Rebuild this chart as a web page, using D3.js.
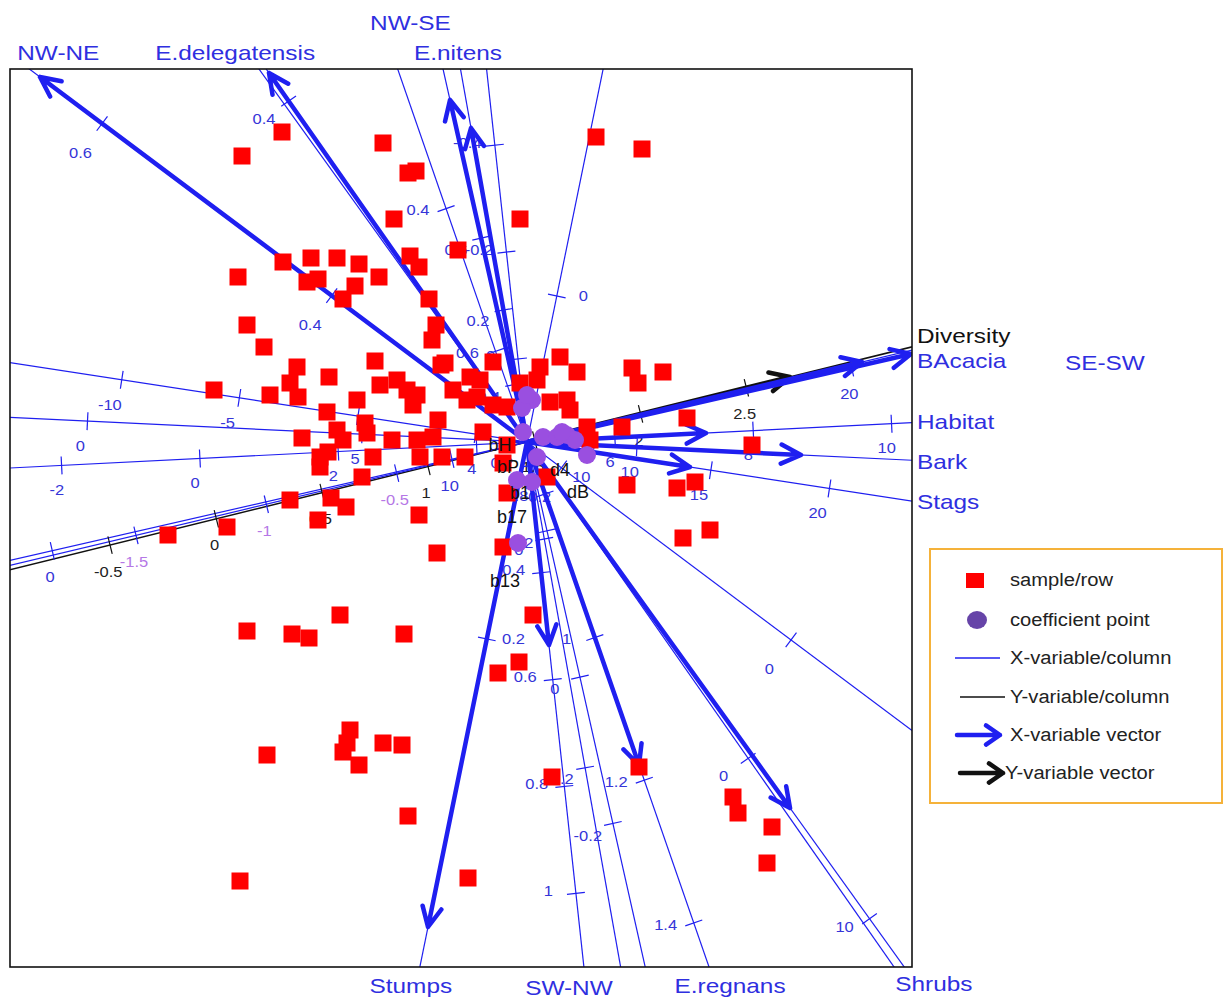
<!DOCTYPE html>
<html><head><meta charset="utf-8">
<script src="https://cdn.jsdelivr.net/npm/d3@7"></script>
<style>
body{margin:0;background:#fff;}
svg{display:block;}
text{font-family:"Liberation Sans",Arial,sans-serif;}
</style>
</head><body>
<svg id="c" width="1224" height="998"></svg>
<script>
// ---------------- DATA (biplot units) ----------------
const sampleX = [-2.45,-2.85,-1.44,0.69,1.15,-1.19,-1.11,-1.33,-0.07,-0.69,
 -2.44,-2.16,-1.90,-1.68,-1.48,-1.17,-1.08,-2.89,-2.20,-2.09,-1.72,-1.84,-0.98,
 -2.80,-0.91,-0.95,-2.63,-0.86,-1.52,-2.30,-1.98,-3.13,-2.57,-2.37,-2.29,
 -1.47,-1.30,-1.20,-1.10,-1.14,-1.70,-2.00,-0.74,-0.57,-0.60,-0.89,-2.25,-1.90,-1.84,-1.62,-1.60,
 -2.07,-1.99,-2.07,-1.54,-1.35,-1.10,-0.94,-1.07,-0.85,-0.62,-1.65,-2.37,-1.96,-1.81,-3.00,-3.59,-2.09,-1.08,-0.90,
 -0.82,-0.34,-0.47,-0.50,0.33,0.13,0.50,-0.07,0.10,-0.34,-0.20,0.23,0.40,0.43,0.60,0.63,1.05,1.11,1.36,0.95,1.60,2.25,
 -0.44,-0.20,-0.24,0.20,-0.20,1.00,1.50,1.68,1.56,1.83,-0.24,
 -2.80,-2.35,-2.18,-1.87,-1.23,0.06,-0.08,-0.29,-2.60,-1.77,-1.80,-1.84,-1.68,-1.44,-1.25,-1.19,0.25,-2.87,-0.59,1.12,2.06,2.11,2.45,2.40];
const sampleY = [3.10,2.86,2.99,3.05,2.93,2.69,2.71,2.23,2.23,1.92,
 1.80,1.84,1.84,1.78,1.65,1.86,1.75,1.65,1.60,1.63,1.56,1.43,1.43,
 1.17,1.17,1.02,0.95,0.77,0.81,0.75,0.65,0.52,0.47,0.59,0.45,
 0.57,0.62,0.52,0.47,0.37,0.42,0.30,0.52,0.65,0.42,0.22,0.04,0.12,0.02,0.19,0.09,
 -0.15,-0.10,-0.25,-0.15,0.02,0.02,0.05,-0.15,-0.15,-0.15,-0.35,-0.58,-0.56,-0.65,-0.85,-0.93,-0.78,-0.73,-1.11,
 0.79,0.80,0.62,0.45,0.85,0.75,0.70,0.59,0.62,0.37,0.35,0.40,0.42,0.32,0.15,0.02,0.74,0.59,0.70,0.15,0.24,-0.03,
 0.10,-0.03,-0.21,-0.35,-0.51,-0.43,-0.46,-0.40,-0.96,-0.88,-1.05,
 -1.89,-1.92,-1.96,-1.73,-1.92,-1.73,-2.20,-2.31,-3.13,-2.88,-3.01,-3.10,-3.23,-3.01,-3.03,-3.74,-3.35,-4.39,-4.36,-3.25,-3.55,-3.71,-3.85,-4.21];

const coefX = [0.05,-0.05,-0.04,0.16,0.30,0.40,0.48,0.10,0.60,-0.10,0.05,-0.09,0.35,0.00];
const coefY = [0.42,0.34,0.10,0.05,0.05,0.07,0.02,-0.15,-0.13,-0.38,-0.40,-1.01,0.10,0.47];
const coefLabel  = ["bH","bP","b1","b17","b13","d4","dB"];
const coefLabelX = [-0.27,-0.19,-0.07,-0.15,-0.22,0.33,0.51];
const coefLabelY = [-0.03,-0.25,-0.51,-0.75,-1.39,-0.28,-0.50];

const axisName = ["NW-NE","E.delegatensis","NW-SE","E.nitens","Diversity","BAcacia","SE-SW",
                  "Habitat","Bark","Stags","Shrubs","E.regnans","SW-NW","Stumps"];
const axisType = ["X","X","X","X","Y","X","X","X","X","X","X","X","X","X"];
const arrowX = [-4.87,-2.58,-0.56,-0.77,2.63,3.84,3.35,1.79,2.74,1.63,2.63,1.12,0.22,-0.99];
const arrowY = [ 3.65, 3.69, 3.14, 3.42,0.65,0.88,0.80,0.09,-0.13,-0.25,-3.66,-3.23,-2.03,-4.85];

// calibration ticks: position along axis (biplot units) and label
const tickPos = [
  [5.31,2.44,-0.43,-3.30],
  [4.16,-3.86],
  [1.34,-0.985,-3.31],
  [2.09,0.59,-0.91,-2.41,-3.91],
  [-4.295,-3.20,-2.11,-1.02,0.08,1.17,2.26],
  [-4.87,-0.77,3.33],
  [-4.02,-2.68,-1.34],
  [-4.66,-3.275,-1.89,-0.505,0.88,2.265,3.65],
  [-4.40,-1.65,1.10],
  [-4.10,-2.91,-1.71,-0.52,0.67,1.86,3.06],
  [5.87],
  [-2.47,-0.96,0.55,2.07,3.58,5.09],
  [-2.985,-1.91,-0.835,0.24,1.315,2.39,3.465,4.54],
  [-1.49,2.01]
];
const tickText = [
  ["0.6","0.4","0.2","0"],
  ["0.4","0"],
  ["0.2","0","-0.2"],
  ["0.6","0.4","0.2","0","-0.2"],
  ["-0.5","0","0.5","1","1.5","2","2.5"],
  ["0","10","20"],
  ["-1.5","-1","-0.5"],
  ["-2","0","2","4","6","8","10"],
  ["0","5","10"],
  ["-10","-5","0","5","10","15","20"],
  ["10"],
  ["0.4","0.6","0.8","1","1.2","1.4"],
  ["-0.4","-0.2","0","0.2","0.4","0.6","0.8","1"],
  ["0","0.2"]
];

const legendLabels = ["sample/row","coefficient point","X-variable/column","Y-variable/column","X-variable vector","Y-variable vector"];

// ---------------- LAYOUT / STYLE ----------------
const BLUE = "#1f1ff0", BLUE_T = "#3535d8", BLACK = "#111", VIOLET = "#b577e6";
const tickSide = [1,1,1,1,-1,-1,-1,-1,-1,-1,-1,-1,-1,1];
const tickOff  = [[36,0],[30,0],[27,-6],[27,-6],[25,-8],[25,-8],[25,-8],[24,-6],[25,-6],[26,-8],[25,-8],[27,-8],[27,-6],[26,-6]];
const labelShift = [[29,-17,"middle"],[-31,-17,"middle"],[-50,-47,"middle"],[15,-17,"middle"],
  [5,-11,"start"],[5,7,"start"],[153,12,"start"],[5,-1,"start"],[5,1,"start"],[5,0,"start"],
  [-9,16,"start"],[21,18,"middle"],[-15,20,"middle"],[-9,18,"middle"]];

const svg = d3.select("#c");
const x = d3.scaleLinear().domain([-5.17, 3.85]).range([10, 912]);
const y = d3.scaleLinear().domain([-5.25, 3.73]).range([967, 69]);

function stretch(sel, f){
  sel.each(function(){
    const w = this.getComputedTextLength();
    d3.select(this).attr("textLength", w*f).attr("lengthAdjust","spacingAndGlyphs");
  });
}
function arrowPath(x0,y0,x1,y1,head,ang){
  const a = Math.atan2(y1-y0, x1-x0);
  const h1x = x1 - head*Math.cos(a-ang), h1y = y1 - head*Math.sin(a-ang);
  const h2x = x1 - head*Math.cos(a+ang), h2y = y1 - head*Math.sin(a+ang);
  return `M${x0},${y0}L${x1},${y1}M${h1x},${h1y}L${x1},${y1}L${h2x},${h2y}`;
}

svg.append("defs").append("clipPath").attr("id","clip")
  .append("rect").attr("x",10).attr("y",69).attr("width",902).attr("height",898);

const [xd0,xd1] = x.domain(), [yd0,yd1] = y.domain();
const axes = axisName.map((n,i)=>{
  const L = Math.hypot(arrowX[i], arrowY[i]);
  const ux = arrowX[i]/L, uy = arrowY[i]/L;
  const t = Math.min(ux>0 ? xd1/ux : xd0/ux, uy>0 ? yd1/uy : yd0/uy);
  return {name:n, i, ux, uy, tipX:arrowX[i], tipY:arrowY[i], exitX:t*ux, exitY:t*uy,
          color: axisType[i]==="Y" ? BLACK : BLUE};
});

const plot = svg.append("g").attr("clip-path","url(#clip)");

// full axis lines
plot.selectAll("line.ax").data(axes).join("line").attr("class","ax")
  .attr("x1",d=>x(-12*d.ux)).attr("y1",d=>y(-12*d.uy))
  .attr("x2",d=>x(12*d.ux)).attr("y2",d=>y(12*d.uy))
  .attr("stroke",d=>d.color).attr("stroke-width",d=>d.name==="Diversity"?1.6:1.2);

// ticks
const tg = plot.append("g");
axes.forEach(a=>{
  tickPos[a.i].forEach((p,k)=>{
    const cx = x(p*a.ux), cy = y(p*a.uy);
    const sx = a.ux, sy = -a.uy;          // screen direction
    const px = sy, py = -sx;              // screen perpendicular
    tg.append("line").attr("x1",cx-9*px).attr("y1",cy-9*py).attr("x2",cx+9*px).attr("y2",cy+9*py)
      .attr("stroke",a.color).attr("stroke-width",1.2);
    const s = tickSide[a.i], off = tickOff[a.i];
    const col = a.name==="Diversity" ? "#222" : (a.name==="SE-SW" ? VIOLET : BLUE_T);
    tg.append("text").attr("x",cx + s*off[0]*px + off[1]*sx).attr("y",cy + s*off[0]*py + off[1]*sy)
      .attr("text-anchor","middle").attr("dominant-baseline","central")
      .attr("font-size",15).attr("fill",col).text(tickText[a.i][k])
      .call(stretch,1.1);
  });
});

// arrows (vectors)
plot.selectAll("path.arr").data(axes).join("path").attr("class","arr")
  .attr("d",d=>arrowPath(x(0),y(0),x(d.tipX),y(d.tipY),22,0.45))
  .attr("fill","none").attr("stroke",d=>d.color).attr("stroke-width",4.5)
  .attr("stroke-linejoin","round").attr("stroke-linecap","round");

// samples
plot.selectAll("rect.s").data(sampleX.map((v,i)=>[v,sampleY[i]])).join("rect").attr("class","s")
  .attr("x",d=>x(d[0])-8.5).attr("y",d=>y(d[1])-8.5).attr("width",17).attr("height",17)
  .attr("fill","#ff0000");

// coefficient points
plot.selectAll("circle.c").data(coefX.map((v,i)=>[v,coefY[i]])).join("circle").attr("class","c")
  .attr("cx",d=>x(d[0])).attr("cy",d=>y(d[1])).attr("r",9)
  .attr("fill","#9a4fe0");

plot.selectAll("text.cl").data(coefLabel).join("text").attr("class","cl")
  .attr("x",(d,i)=>x(coefLabelX[i])).attr("y",(d,i)=>y(coefLabelY[i]))
  .attr("text-anchor","middle").attr("dominant-baseline","central")
  .attr("font-size",18).attr("fill","#111").text(d=>d);

// frame
svg.append("rect").attr("x",10).attr("y",69).attr("width",902).attr("height",898)
  .attr("fill","none").attr("stroke","#111").attr("stroke-width",1.6);

// axis labels
svg.selectAll("text.al").data(axes).join("text").attr("class","al")
  .attr("x",d=>x(d.exitX)+labelShift[d.i][0]).attr("y",d=>y(d.exitY)+labelShift[d.i][1])
  .attr("text-anchor",d=>labelShift[d.i][2]).attr("dominant-baseline","central")
  .attr("font-size",21).attr("fill",d=>d.name==="Diversity"?"#111":"#2f2fe0")
  .text(d=>d.name).call(stretch,1.16);

// legend
const lg = svg.append("g");
lg.append("rect").attr("x",930).attr("y",549).attr("width",292).attr("height",254)
  .attr("fill","#fff").attr("stroke","#f5b23a").attr("stroke-width",2);
const ly = [580,620,658,697,735,773];
lg.append("rect").attr("x",966).attr("y",ly[0]-7).attr("width",18).attr("height",15).attr("fill","#ff0000");
lg.append("ellipse").attr("cx",977).attr("cy",ly[1]).attr("rx",10).attr("ry",9).attr("fill","#6644a8");
lg.append("line").attr("x1",955).attr("x2",1000).attr("y1",ly[2]).attr("y2",ly[2]).attr("stroke",BLUE).attr("stroke-width",1.5);
lg.append("line").attr("x1",960).attr("x2",1005).attr("y1",ly[3]).attr("y2",ly[3]).attr("stroke",BLACK).attr("stroke-width",1.5);
lg.append("path").attr("d",arrowPath(957,ly[4],1000,ly[4],17,0.6)).attr("fill","none")
  .attr("stroke",BLUE).attr("stroke-width",4.5).attr("stroke-linejoin","round").attr("stroke-linecap","round");
lg.append("path").attr("d",arrowPath(960,ly[5],1003,ly[5],17,0.6)).attr("fill","none")
  .attr("stroke",BLACK).attr("stroke-width",4.5).attr("stroke-linejoin","round").attr("stroke-linecap","round");
lg.selectAll("text").data(legendLabels).join("text")
  .attr("x",(d,i)=>i===5?1005:1010).attr("y",(d,i)=>ly[i])
  .attr("dominant-baseline","central").attr("font-size",18).attr("fill","#222")
  .text(d=>d).call(stretch,1.12);
</script>
</body></html>
